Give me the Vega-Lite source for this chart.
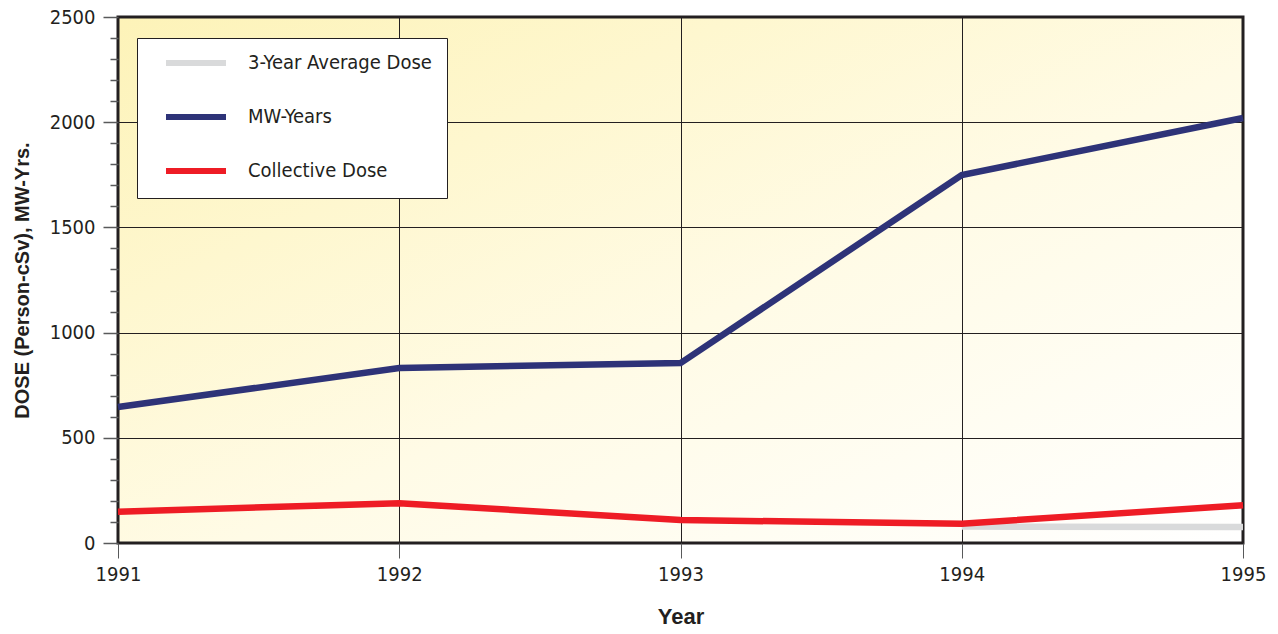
{
  "$schema": "https://vega.github.io/schema/vega-lite/v6.json",
  "width": 1125,
  "height": 526,
  "autosize": {"type": "none"},
  "padding": {"left": 118, "top": 17, "right": 35, "bottom": 91},
  "background": "white",
  "config": {
    "font": "Liberation Sans Narrow, DejaVu Sans Condensed, Liberation Sans, sans-serif",
    "view": {
      "stroke": "#231f20",
      "strokeWidth": 3,
      "fill": {
        "gradient": "linear",
        "x1": 0, "y1": 0, "x2": 1, "y2": 1,
        "stops": [
          {"offset": 0, "color": "#fdf3b8"},
          {"offset": 0.55, "color": "#fffbe6"},
          {"offset": 1, "color": "#ffffff"}
        ]
      }
    }
  },
  "data": {
    "values": [
      {"Year": 1994, "Series": "3-Year Average Dose", "Value": 78},
      {"Year": 1995, "Series": "3-Year Average Dose", "Value": 76},
      {"Year": 1991, "Series": "MW-Years", "Value": 646},
      {"Year": 1992, "Series": "MW-Years", "Value": 832},
      {"Year": 1993, "Series": "MW-Years", "Value": 855},
      {"Year": 1994, "Series": "MW-Years", "Value": 1749},
      {"Year": 1995, "Series": "MW-Years", "Value": 2020},
      {"Year": 1991, "Series": "Collective Dose", "Value": 149},
      {"Year": 1992, "Series": "Collective Dose", "Value": 189},
      {"Year": 1993, "Series": "Collective Dose", "Value": 109},
      {"Year": 1994, "Series": "Collective Dose", "Value": 92},
      {"Year": 1995, "Series": "Collective Dose", "Value": 179}
    ]
  },
  "mark": {"type": "line", "strokeWidth": 6.5, "clip": false},
  "encoding": {
    "x": {
      "field": "Year",
      "type": "quantitative",
      "scale": {"domain": [1991, 1995], "nice": false, "zero": false},
      "axis": {
        "values": [1991, 1992, 1993, 1994, 1995],
        "format": "d",
        "labelFlush": false,
        "title": "Year",
        "titleFont": "Liberation Sans",
        "titleFontSize": 22,
        "titleFontWeight": "bold",
        "titleColor": "#231f20",
        "titlePadding": 22,
        "labelFontSize": 20,
        "labelColor": "#231f20",
        "labelPadding": 6,
        "tickSize": 15,
        "tickColor": "#58595b",
        "tickWidth": 1,
        "domain": false,
        "grid": true,
        "gridColor": "#231f20",
        "gridWidth": 1,
        "gridOpacity": 1
      }
    },
    "y": {
      "field": "Value",
      "type": "quantitative",
      "scale": {"domain": [0, 2500], "nice": false},
      "axis": {
        "values": [0, 100, 200, 300, 400, 500, 600, 700, 800, 900, 1000, 1100, 1200, 1300, 1400, 1500, 1600, 1700, 1800, 1900, 2000, 2100, 2200, 2300, 2400, 2500],
        "labelExpr": "datum.value % 500 === 0 ? datum.label : ''",
        "format": "d",
        "labelFlush": false,
        "title": "DOSE (Person-cSv), MW-Yrs.",
        "titleFont": "Liberation Sans",
        "titleFontSize": 20,
        "titleFontWeight": "bold",
        "titleColor": "#231f20",
        "titlePadding": 17,
        "labelFontSize": 20,
        "labelColor": "#231f20",
        "labelPadding": 8,
        "tickSize": {"condition": {"test": "datum.value % 500 === 0", "value": 15}, "value": 8},
        "tickColor": "#58595b",
        "tickWidth": 1.5,
        "domain": false,
        "grid": true,
        "gridColor": "#231f20",
        "gridWidth": 1,
        "gridOpacity": {"condition": {"test": "datum.value % 500 === 0", "value": 1}, "value": 0}
      }
    },
    "color": {
      "field": "Series",
      "type": "nominal",
      "scale": {
        "domain": ["3-Year Average Dose", "MW-Years", "Collective Dose"],
        "range": ["#d9dadb", "#2e3378", "#ee1c25"]
      },
      "legend": {
        "title": null,
        "orient": "none",
        "legendX": 19,
        "legendY": 21,
        "fillColor": "white",
        "strokeColor": "#231f20",
        "padding": 15,
        "symbolOffset": 34,
        "symbolType": "M-5,0H5",
        "symbolSize": 144,
        "symbolStrokeWidth": 6,
        "symbolFillColor": "transparent",
        "labelFontSize": 20,
        "labelColor": "#231f20",
        "labelOffset": 42,
        "labelLimit": 400,
        "labelExpr": "datum.label + '\u2003\u2003'",
        "rowPadding": 30
      }
    }
  }
}
